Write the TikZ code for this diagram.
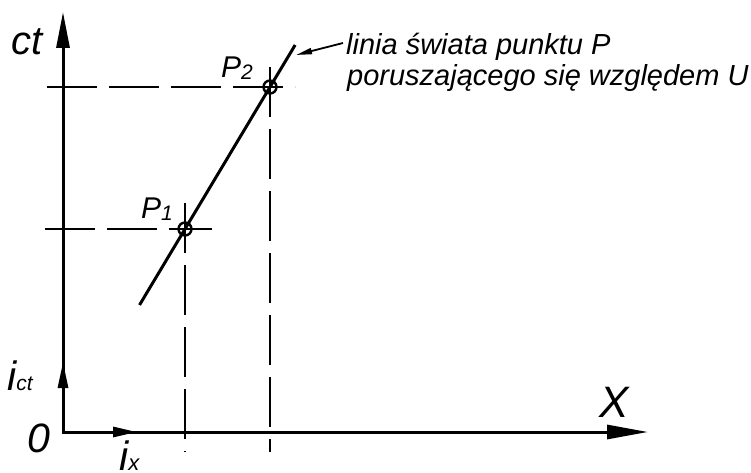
\documentclass[tikz,border=0pt]{standalone}
\usepackage{fontspec}
\setmainfont{Liberation Sans}
\usetikzlibrary{arrows.meta,calc}
\begin{document}
\begin{tikzpicture}[x=1pt,y=-1pt,
  axisline/.style={line width=3pt},
  guide/.style={line width=1.3pt, dash pattern=on 50pt off 12pt},
  worldline/.style={line width=3pt, line cap=butt},
  ptmark/.style={circle, draw, line width=2.4pt, minimum size=13pt, inner sep=0pt},
  lbl/.style={inner sep=0pt, anchor=base west, font=\itshape},
  leader/.style={line width=1.8pt, -{Triangle[length=16pt,width=6pt]}}]
\useasboundingbox (0,0) rectangle (751,473);
% axes
\coordinate (O) at (63,432);
\coordinate (Ytop) at (63,12);
\coordinate (Xend) at (648,432);
\draw[axisline, {Triangle[length=36pt,width=13pt]}-{Triangle[length=41pt,width=14pt]}] (Ytop) -- (O) -- (Xend);
% unit vectors
\coordinate (ictT) at (63,362);
\coordinate (ixT) at (137,432);
\draw[axisline, -{Triangle[length=26pt,width=10pt]}] (O) -- (ictT);
\draw[axisline, -{Triangle[length=24pt,width=10pt]}] (O) -- (ixT);
% guide lines
\draw[guide] (47,87) -- (295,87);
\draw[guide] (45,229) -- (212,229);
\draw[guide] (185,203) -- (185,452);
\draw[guide] (270,67) -- (270,452);
% points
\node[ptmark] (P2) at (270,87) {};
\node[ptmark] (P1) at (185,229) {};
% world line
\draw[worldline] ($(P1.center)!-0.535!(P2.center)$) coordinate (wA) -- ($(P1.center)!1.296!(P2.center)$) coordinate (wB);
% leader
\coordinate (ldT) at (343,43);
\coordinate (ldH) at (296,55);
\draw[leader] (ldT) -- (ldH);
% labels
\node[lbl, font=\itshape\fontsize{40}{40}\selectfont] (lct) at (11,55) {ct};
\node[lbl, font=\itshape\fontsize{29}{29}\selectfont] (t1) at (346,55) {linia świata punktu P};
\node[lbl, font=\itshape\fontsize{29}{29}\selectfont] (t2) at (347,86) {poruszającego się względem U};
\node[lbl] (lP2) at (221,78) {\fontsize{30}{30}\selectfont P\raisebox{-2pt}{\fontsize{21}{21}\selectfont 2}};
\node[lbl] (lP1) at (141,218) {\fontsize{30}{30}\selectfont P\raisebox{-2pt}{\fontsize{21}{21}\selectfont 1}};
\node[lbl, font=\itshape\fontsize{44}{44}\selectfont] (lX) at (599,417) {X};
\node[lbl, font=\itshape\fontsize{41}{41}\selectfont] (l0) at (27,452) {0};
\node[lbl] (lict) at (7,390) {\fontsize{41}{41}\selectfont i\fontsize{21}{21}\selectfont ct};
\node[lbl] (lix) at (119,470) {\fontsize{41}{41}\selectfont i\fontsize{22}{22}\selectfont x};
\end{tikzpicture}
\end{document}
